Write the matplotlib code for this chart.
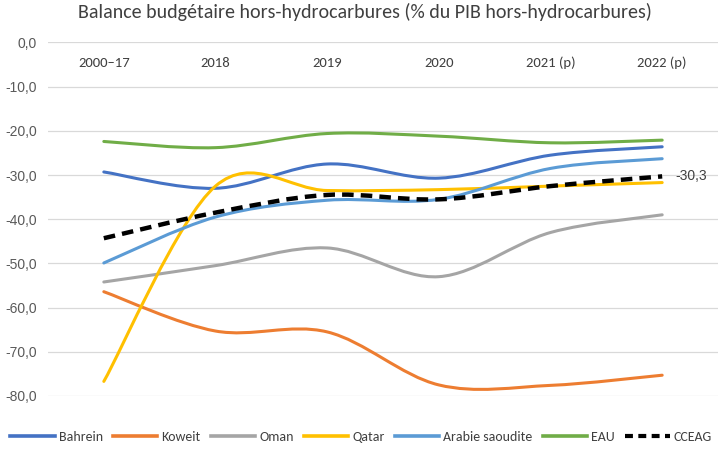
import numpy as np
import matplotlib
matplotlib.use('Agg')
import matplotlib.pyplot as plt
from matplotlib.path import Path
from matplotlib.patches import PathPatch
from matplotlib.lines import Line2D

# Données
annees = ['2000–17', '2018', '2019', '2020', '2021 (p)', '2022 (p)']
bahrein = [-29.3, -33.0, -27.5, -30.7, -25.5, -23.6]
koweit = [-56.4, -65.3, -65.5, -77.5, -77.6, -75.3]
oman = [-54.2, -50.5, -46.5, -53.0, -43.0, -39.0]
qatar = [-76.7, -32.5, -33.5, -33.3, -32.5, -31.7]
arabie = [-49.9, -39.5, -35.7, -35.5, -28.5, -26.3]
eau = [-22.4, -23.8, -20.6, -21.2, -22.7, -22.1]
cceag = [-44.3, -38.5, -34.5, -35.5, -32.5, -30.3]

series = [
    ('Bahrein', bahrein, '#4472C4'),
    ('Koweit', koweit, '#ED7D31'),
    ('Oman', oman, '#A5A5A5'),
    ('Qatar', qatar, '#FFC000'),
    ('Arabie saoudite', arabie, '#5B9BD5'),
    ('EAU', eau, '#70AD47'),
]

POLICE = ['Carlito', 'DejaVu Sans']
ARIAL = ['Liberation Sans', 'DejaVu Sans']
GRIS = '#404040'


# Courbe lissée façon Excel (Bézier avec tangentes Catmull-Rom)
def chemin_lisse(x, y):
    pts = np.column_stack([x, y]).astype(float)
    n = len(pts)
    verts = [pts[0]]
    codes = [Path.MOVETO]
    for i in range(n - 1):
        p0 = pts[max(i - 1, 0)]
        p1 = pts[i]
        p2 = pts[i + 1]
        p3 = pts[min(i + 2, n - 1)]
        c1 = p1 + (p2 - p0) / 6.0
        c2 = p2 - (p3 - p1) / 6.0
        verts += [c1, c2, p2]
        codes += [Path.CURVE4] * 3
    return Path(verts, codes)


fig = plt.figure(figsize=(7.26, 4.54), dpi=100)
ax = fig.add_axes([0.0661, 0.1278, 0.9229, 0.7786])

x = np.arange(len(annees))
handles = []
for nom, vals, couleur in series:
    ax.add_patch(PathPatch(chemin_lisse(x, vals), fill=False, edgecolor=couleur,
                           lw=2.2, capstyle='round', zorder=3))
    handles.append(Line2D([], [], color=couleur, lw=2.6, label=nom))

ax.add_patch(PathPatch(chemin_lisse(x, cceag), fill=False, edgecolor='black',
                       lw=3.2, linestyle=(0, (2.6, 1.6)), capstyle='butt', zorder=4))
handles.append(Line2D([], [], color='black', lw=3.0, linestyle=(0, (1.9, 1.3)), label='CCEAG'))

ax.text(x[-1] + 0.12, cceag[-1], '-30,3', ha='left', va='center', fontsize=10,
        color=GRIS, family=ARIAL)

ax.set_xlim(-0.5, len(annees) - 0.5)
ax.set_ylim(-80, 0)
yt = np.arange(-80, 1, 10)
ax.set_yticks(yt)
ax.set_yticklabels([f'{v:.1f}'.replace('.', ',') for v in yt],
                   family=ARIAL, fontsize=10, color='#595959')
ax.tick_params(axis='y', length=0, pad=8)

ax.set_xticks(x)
ax.set_xticklabels(annees, family=POLICE, fontsize=10.5, color=GRIS)
ax.tick_params(axis='x', top=True, labeltop=True, bottom=False, labelbottom=False,
               length=0, pad=-14.5)
for lab in ax.get_xticklabels():
    lab.set_va('center')

ax.grid(axis='y', color='#D9D9D9', lw=0.9)
ax.set_axisbelow(True)
for s in ax.spines.values():
    s.set_visible(False)

fig.text(0.503, 0.974, 'Balance budgétaire hors-hydrocarbures (% du PIB hors-hydrocarbures)',
         ha='center', va='center', fontsize=14.4, color=GRIS, family=POLICE)

fig.legend(handles=handles, loc='center left', bbox_to_anchor=(0.014, 0.037), ncol=7,
           frameon=False, prop={'family': POLICE, 'size': 10}, labelcolor=GRIS,
           handlelength=3.2, handletextpad=0.3, columnspacing=0.72, borderaxespad=0,
           borderpad=0)

fig.savefig('out.png', dpi=100)
